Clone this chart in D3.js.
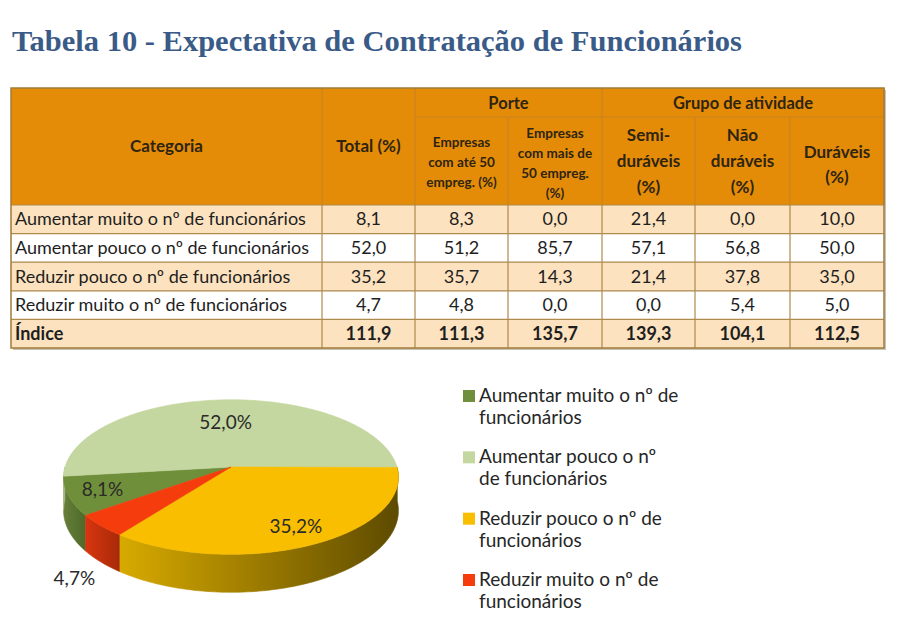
<!DOCTYPE html>
<html><head><meta charset="utf-8">
<script src="https://cdn.jsdelivr.net/npm/d3@7/dist/d3.min.js"></script>
<style>
body{margin:0;background:#fff;}
svg{display:block;}
</style></head>
<body>
<svg id="chart" width="900" height="644"></svg>
<script>
// ---------------- DATA ----------------
const title = "Tabela 10 - Expectativa de Contratação de Funcionários";
const categories = [
  "Aumentar muito o nº de funcionários",
  "Aumentar pouco o nº de funcionários",
  "Reduzir pouco o nº de funcionários",
  "Reduzir muito o nº de funcionários",
  "Índice"
];
const total      = [8.1, 52.0, 35.2, 4.7, 111.9];
const ate50      = [8.3, 51.2, 35.7, 4.8, 111.3];
const mais50     = [0.0, 85.7, 14.3, 0.0, 135.7];
const semiDur    = [21.4, 57.1, 21.4, 0.0, 139.3];
const naoDur     = [0.0, 56.8, 37.8, 5.4, 104.1];
const duraveis   = [10.0, 50.0, 35.0, 5.0, 112.5];
const groupHeaders = ["Porte", "Grupo de atividade"];
const colHeaders = [
  ["Categoria"],
  ["Total (%)"],
  ["Empresas", "com até 50", "empreg. (%)"],
  ["Empresas", "com mais de", "50 empreg.", "(%)"],
  ["Semi-", "duráveis", "(%)"],
  ["Não", "duráveis", "(%)"],
  ["Duráveis", "(%)"]
];
const legendLabels = [
  ["Aumentar muito o nº de", "funcionários"],
  ["Aumentar pouco o nº", "de funcionários"],
  ["Reduzir pouco o nº de", "funcionários"],
  ["Reduzir muito o nº de", "funcionários"]
];
const pieValues = total.slice(0, 4);
const pieColors = ["#708F3A", "#C4D7A0", "#F9BE00", "#F43C0C"];
const sideColors = [["#66803A", "#4E6828"], ["#B2C48E", "#9DB07A"], ["#D8AA00", "#5E4B00"], ["#D83510", "#A82A08"]];

// ---------------- SETUP ----------------
const svg = d3.select("#chart");
svg.append("rect").attr("width", 900).attr("height", 644).attr("fill", "#fff");
const loc = d3.formatLocale({decimal: ",", thousands: ".", grouping: [3], currency: ["", ""]});
const fmt = loc.format(".1f");
const fontSans = "Lato, 'Open Sans', sans-serif";

// Title
svg.append("text").attr("x", 12).attr("y", 51)
  .attr("font-family", "'Liberation Serif', 'DejaVu Serif', serif")
  .attr("font-weight", "bold").attr("font-size", 30)
  .attr("fill", "#3A5B88")
  .attr("textLength", 730).attr("lengthAdjust", "spacingAndGlyphs")
  .text(title);

// ---------------- TABLE ----------------
const colX = [11, 322, 415, 508, 602, 695, 790, 884];
const tTop = 88, subTop = 117, hBottom = 205, tBottom = 348;
const rowY = d3.scaleBand().domain(d3.range(categories.length)).range([hBottom, tBottom]);
const columns = [total, ate50, mais50, semiDur, naoDur, duraveis];
const headFill = "#E48C08", headLine = "#C98420", bodyLine = "#AE8A4C";

const table = svg.append("g");
// shadow
table.append("rect").attr("x", colX[0] + 2).attr("y", tTop + 2)
  .attr("width", colX[7] - colX[0]).attr("height", tBottom - tTop)
  .attr("fill", "#c9c2b6");
// header bg
table.append("rect").attr("x", colX[0]).attr("y", tTop)
  .attr("width", colX[7] - colX[0]).attr("height", hBottom - tTop).attr("fill", headFill);
// body rows
table.selectAll("rect.row").data(categories).join("rect").attr("class", "row")
  .attr("x", colX[0]).attr("y", (d, i) => rowY(i))
  .attr("width", colX[7] - colX[0]).attr("height", rowY.bandwidth())
  .attr("fill", (d, i) => i % 2 === 0 ? "#FCE2BF" : "#FFFFFF");

// header lines
const hl = table.append("g").attr("stroke", headLine).attr("stroke-width", 1.2);
[1, 2, 4, 7].forEach(i => hl.append("line").attr("x1", colX[i]).attr("x2", colX[i]).attr("y1", tTop).attr("y2", hBottom));
[3, 5, 6].forEach(i => hl.append("line").attr("x1", colX[i]).attr("x2", colX[i]).attr("y1", subTop).attr("y2", hBottom));
hl.append("line").attr("x1", colX[2]).attr("x2", colX[7]).attr("y1", subTop).attr("y2", subTop);
// body lines
const bl = table.append("g").attr("stroke", bodyLine).attr("stroke-width", 1.2);
for (let i = 1; i < 7; i++) bl.append("line").attr("x1", colX[i]).attr("x2", colX[i]).attr("y1", hBottom).attr("y2", tBottom);
categories.forEach((c, i) => bl.append("line").attr("x1", colX[0]).attr("x2", colX[7]).attr("y1", rowY(i)).attr("y2", rowY(i)));
// outer border
table.append("rect").attr("x", colX[0]).attr("y", tTop)
  .attr("width", colX[7] - colX[0]).attr("height", tBottom - tTop)
  .attr("fill", "none").attr("stroke", "#A07C3A").attr("stroke-width", 1.5);

// header texts
const headTxt = table.append("g").attr("font-family", fontSans).attr("font-weight", "bold")
  .attr("fill", "#2E2410").attr("text-anchor", "middle");
headTxt.append("text").attr("x", (colX[2] + colX[4]) / 2).attr("y", 109).attr("font-size", 16.5).text(groupHeaders[0]);
headTxt.append("text").attr("x", (colX[4] + colX[7]) / 2).attr("y", 109).attr("font-size", 16.5).text(groupHeaders[1]);
const headerSpecs = [
  {size: 17, y0: 152, dy: 0},
  {size: 17, y0: 152, dy: 0},
  {size: 13.5, y0: 147, dy: 20},
  {size: 13.5, y0: 138, dy: 20},
  {size: 17, y0: 141, dy: 26},
  {size: 17, y0: 141, dy: 26},
  {size: 17, y0: 158, dy: 25}
];
colHeaders.forEach((lines, c) => {
  const s = headerSpecs[c];
  lines.forEach((ln, j) => {
    headTxt.append("text").attr("x", (colX[c] + colX[c + 1]) / 2)
      .attr("y", s.y0 + j * s.dy).attr("font-size", s.size).text(ln);
  });
});

// body texts
const bodyTxt = table.append("g").attr("font-family", fontSans).attr("fill", "#1E1E1E").attr("font-size", 18);
categories.forEach((c, i) => {
  const y = rowY(i) + rowY.bandwidth() / 2 + 6;
  const bold = i === categories.length - 1 ? "bold" : "normal";
  bodyTxt.append("text").attr("x", colX[0] + 4).attr("y", y).attr("font-weight", bold).text(c);
  columns.forEach((col, k) => {
    bodyTxt.append("text").attr("x", (colX[k + 1] + colX[k + 2]) / 2).attr("y", y)
      .attr("text-anchor", "middle").attr("font-weight", bold).text(fmt(col[i]));
  });
});

// ---------------- 3D PIE ----------------
const cx = 231, cy = 467, R = 166, RY = 76, K = 0.13, H = 33;
function proj(theta, r, depth) {
  const c = Math.cos(theta), s = Math.sin(theta);
  const sc = 1 / (1 + K * c * r);
  return [cx + R * r * s * sc, cy - RY * r * c * sc + depth * sc];
}
const startDeg = 234;
const pie = d3.pie().sort(null)
  .startAngle(startDeg * Math.PI / 180)
  .endAngle(startDeg * Math.PI / 180 + 2 * Math.PI);
const arcs = pie(pieValues);
const line = d3.line();
const pieG = svg.append("g");
const defs = svg.append("defs");

function rim(a0, a1, depth) {
  const n = Math.max(2, Math.ceil((a1 - a0) / 0.02));
  return d3.range(n + 1).map(i => proj(a0 + (a1 - a0) * i / n, 1, depth));
}
// sides (front half)
arcs.forEach((a, i) => {
  [[Math.PI / 2, 3 * Math.PI / 2], [Math.PI / 2 + 2 * Math.PI, 3 * Math.PI / 2 + 2 * Math.PI]].forEach(([w0, w1]) => {
    const s0 = Math.max(a.startAngle, w0), s1 = Math.min(a.endAngle, w1);
    if (s1 <= s0) return;
    const p0 = proj(s0, 1, 0), p1 = proj(s1, 1, 0);
    const gid = "side" + i + "_" + Math.round(w0);
    const gr = defs.append("linearGradient").attr("id", gid)
      .attr("gradientUnits", "userSpaceOnUse")
      .attr("x1", Math.min(p0[0], p1[0])).attr("x2", Math.max(p0[0], p1[0])).attr("y1", 0).attr("y2", 0);
    gr.append("stop").attr("offset", 0).attr("stop-color", sideColors[i][0]);
    gr.append("stop").attr("offset", 1).attr("stop-color", sideColors[i][1]);
    const pts = rim(s0, s1, 0).concat(rim(s0, s1, H).reverse());
    pieG.append("path").attr("d", line(pts) + "Z").attr("fill", `url(#${gid})`)
      .attr("stroke", `url(#${gid})`).attr("stroke-width", 0.6);
  });
});
// tops
arcs.forEach((a, i) => {
  const pts = [proj(0, 0, 0)].concat(rim(a.startAngle, a.endAngle, 0));
  pieG.append("path").attr("d", line(pts) + "Z").attr("fill", pieColors[i])
    .attr("stroke", pieColors[i]).attr("stroke-width", 0.6);
});
// labels
const labelG = svg.append("g").attr("font-family", fontSans).attr("font-size", 19)
  .attr("fill", "#2A2A2A").attr("text-anchor", "middle");
arcs.forEach((a, i) => {
  const mid = (a.startAngle + a.endAngle) / 2;
  const small = a.data < 5;
  const rf = small ? 1.18 : (i === 0 ? 0.8 : (i === 1 ? 0.62 : 0.8));
  const p = proj(mid, rf, small ? H + 4 : 0);
  labelG.append("text").attr("x", p[0]).attr("y", p[1] + 6).text(fmt(a.data) + "%");
});

// ---------------- LEGEND ----------------
const legY = d3.scalePoint().domain(d3.range(legendLabels.length)).range([402, 586]);
const leg = svg.append("g").attr("font-family", fontSans).attr("font-size", 19).attr("fill", "#262626");
legendLabels.forEach((lines, i) => {
  const y = legY(i);
  leg.append("rect").attr("x", 463).attr("y", y - 12).attr("width", 12).attr("height", 12).attr("fill", pieColors[i]);
  lines.forEach((ln, j) => leg.append("text").attr("x", 479).attr("y", y + j * 22).text(ln));
});
</script>
</body></html>
